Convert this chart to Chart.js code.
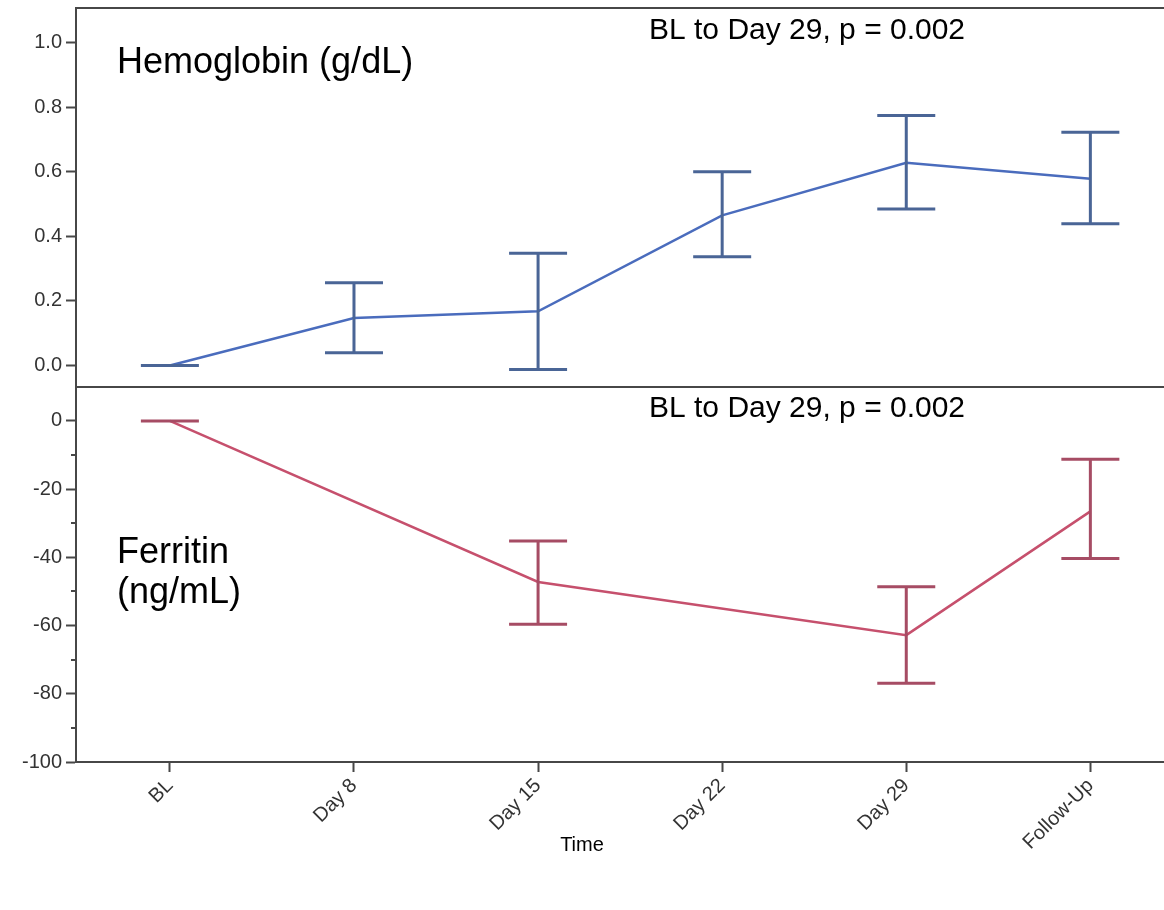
<!DOCTYPE html>
<html>
<head>
<meta charset="utf-8">
<title>Hemoglobin and Ferritin change from baseline</title>
<script src="https://cdn.jsdelivr.net/npm/chart.js@4.4.1/dist/chart.umd.min.js"></script>
<style>
  html, body { margin: 0; padding: 0; background: #fff; }
  #wrap { width: 1164px; height: 910px; }
</style>
</head>
<body>
<div id="wrap"><canvas id="labChart"></canvas></div>
<script>
const timepoints = ['BL', 'Day 8', 'Day 15', 'Day 22', 'Day 29', 'Follow-Up'];

// Hemoglobin change from baseline (g/dL): mean and error limits
const hbMean = [0, 0.147, 0.168, 0.465, 0.628, 0.578];
const hbLow = [0, 0.040, -0.012, 0.337, 0.485, 0.439];
const hbHigh = [0, 0.256, 0.348, 0.600, 0.774, 0.722];

// Ferritin change from baseline (ng/mL), not sampled on Day 8 / Day 22
const feMean = [0, null, -47.2, null, -62.8, -26.5];
const feLow = [0, null, -59.6, null, -76.9, -40.3];
const feHigh = [0, null, -35.2, null, -48.6, -11.2];

const hbTicks = [0, 0.2, 0.4, 0.6, 0.8, 1.0];
const feTicks = [0, -20, -40, -60, -80, -100];
const feMinorTicks = [-10, -30, -50, -70, -90];

const pValueNote = 'BL to Day 29, p = 0.002';

const FONT = "'Liberation Sans', Arial, sans-serif";
const AXIS = '#474747';
const TICK_TEXT = '#333333';

const toPoints = vals => vals.map((v, i) => ({ x: i, y: v }));

// fixed-width y axes without the extra room Chart.js keeps for end labels
const fitYAxis = s => {
    s.width = 76;
    s.paddingTop = 0;
    s.paddingBottom = 0;
};

// whiskers with caps, drawn from each dataset's low/high arrays
const errorBars = {
    id: 'errorBars',
    afterDatasetsDraw(chart) {
        const { ctx } = chart;
        const xs = chart.scales.x;
        chart.data.datasets.forEach(ds => {
            const ys = chart.scales[ds.yAxisID];
            ctx.save();
            ctx.strokeStyle = ds.barColor;
            ctx.lineWidth = 3;
            ds.low.forEach((lo, i) => {
                const hi = ds.high[i];
                if (lo === null || hi === null) return;
                const x = xs.getPixelForValue(i);
                const yl = ys.getPixelForValue(lo);
                const yh = ys.getPixelForValue(hi);
                ctx.beginPath();
                ctx.moveTo(x, yl); ctx.lineTo(x, yh);
                ctx.moveTo(x - 29, yl); ctx.lineTo(x + 29, yl);
                ctx.moveTo(x - 29, yh); ctx.lineTo(x + 29, yh);
                ctx.stroke();
            });
            ctx.restore();
        });
    }
};

// panel frame lines, minor ticks and the text inside the panels
const panelFrame = {
    id: 'panelFrame',
    afterDraw(chart) {
        const { ctx, chartArea } = chart;
        const hb = chart.scales.yHb;
        const fe = chart.scales.yFe;
        ctx.save();
        ctx.strokeStyle = AXIS;
        ctx.lineWidth = 2;
        ctx.beginPath();
        [hb.top, fe.top].forEach(y => {
            ctx.moveTo(chartArea.left - 1, y);
            ctx.lineTo(chartArea.right, y);
        });
        feMinorTicks.forEach(v => {
            const y = Math.round(fe.getPixelForValue(v));
            ctx.moveTo(fe.right - 5, y);
            ctx.lineTo(fe.right, y);
        });
        ctx.stroke();

        ctx.fillStyle = '#000';
        ctx.textBaseline = 'alphabetic';
        ctx.textAlign = 'left';
        ctx.font = `36px ${FONT}`;
        ctx.fillText('Hemoglobin (g/dL)', chartArea.left + 41, hb.top + 65);
        ctx.fillText('Ferritin', chartArea.left + 41, fe.top + 176);
        ctx.fillText('(ng/mL)', chartArea.left + 41, fe.top + 216);
        ctx.font = `30px ${FONT}`;
        ctx.fillText(pValueNote, 649, hb.top + 31);
        ctx.fillText(pValueNote, 649, fe.top + 30);

        ctx.textAlign = 'center';
        ctx.textBaseline = 'middle';
        ctx.font = `20px ${FONT}`;
        ctx.fillText('Time', 582, 845);
        ctx.restore();
    }
};

const tickFont = { family: FONT, size: 20 };

new Chart(document.getElementById('labChart'), {
    type: 'line',
    data: {
        datasets: [{
            label: 'Hemoglobin (g/dL)',
            yAxisID: 'yHb',
            data: toPoints(hbMean),
            borderColor: '#4a6cbd',
            borderWidth: 2.5,
            pointRadius: 0,
            tension: 0,
            low: hbLow,
            high: hbHigh,
            barColor: '#4a6596'
        }, {
            label: 'Ferritin (ng/mL)',
            yAxisID: 'yFe',
            data: toPoints(feMean),
            borderColor: '#c6506d',
            borderWidth: 2.5,
            pointRadius: 0,
            tension: 0,
            spanGaps: true,
            low: feLow,
            high: feHigh,
            barColor: '#a64c64'
        }]
    },
    options: {
        responsive: true,
        maintainAspectRatio: false,
        animation: false,
        layout: { padding: { top: 8, right: 0, bottom: 0, left: 0 } },
        plugins: {
            legend: { display: false },
            tooltip: { enabled: false }
        },
        scales: {
            x: {
                type: 'linear',
                min: -0.51,
                max: 5.4,
                afterBuildTicks: s => { s.ticks = timepoints.map((_, i) => ({ value: i })); },
                afterFit: s => { s.height = 148; },
                ticks: {
                    callback: v => timepoints[v],
                    minRotation: 45,
                    maxRotation: 45,
                    autoSkip: false,
                    padding: 2,
                    font: tickFont,
                    color: TICK_TEXT
                },
                grid: { drawOnChartArea: false, tickLength: 10, tickColor: AXIS, tickWidth: 2 },
                border: { color: AXIS, width: 2 }
            },
            yFe: {
                type: 'linear',
                position: 'left',
                stack: 'panels',
                stackWeight: 1,
                min: -100,
                max: 10,
                afterBuildTicks: s => { s.ticks = feTicks.map(v => ({ value: v })); },
                afterFit: fitYAxis,
                ticks: { callback: v => v, padding: 4, font: tickFont, color: TICK_TEXT },
                grid: { drawOnChartArea: false, tickLength: 10, tickColor: AXIS, tickWidth: 2 },
                border: { color: AXIS, width: 2 }
            },
            yHb: {
                type: 'linear',
                position: 'left',
                stack: 'panels',
                stackWeight: 1.01,
                min: -0.066,
                max: 1.107,
                afterBuildTicks: s => { s.ticks = hbTicks.map(v => ({ value: v })); },
                afterFit: fitYAxis,
                ticks: { callback: v => v.toFixed(1), padding: 4, font: tickFont, color: TICK_TEXT },
                grid: { drawOnChartArea: false, tickLength: 10, tickColor: AXIS, tickWidth: 2 },
                border: { color: AXIS, width: 2 }
            }
        }
    },
    plugins: [errorBars, panelFrame]
});
</script>
</body>
</html>
